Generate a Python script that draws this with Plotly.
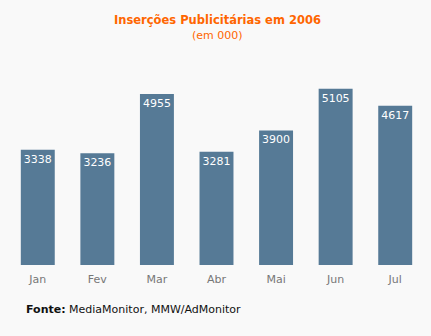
import plotly.graph_objects as go

months = ["Jan", "Fev", "Mar", "Abr", "Mai", "Jun", "Jul"]
values = [3338, 3236, 4955, 3281, 3900, 5105, 4617]

W, H = 431, 336
plot_left, plot_right = 8, 425
plot_top, plot_bot = 65, 265
ymax = 5797


def px(x):
    return (x - plot_left) / (plot_right - plot_left)


def py(y):
    return (plot_bot - y) / (plot_bot - plot_top)


fig = go.Figure(go.Bar(
    x=months, y=values,
    marker=dict(color="#567a96", line=dict(width=0)),
    text=[str(v) for v in values],
    textposition="inside", insidetextanchor="end",
    textfont=dict(family="DejaVu Sans", size=11, color="white"),
    textangle=0,
))

fig.update_layout(
    width=W, height=H,
    margin=dict(l=plot_left, r=W - plot_right, t=plot_top, b=H - plot_bot, pad=0),
    paper_bgcolor="#f9f9f9", plot_bgcolor="#f9f9f9",
    bargap=0.43,
    showlegend=False,
    xaxis=dict(showgrid=False, zeroline=False, showline=False, ticks="",
               tickfont=dict(family="DejaVu Sans", size=11, color="#777777"),
               ticklabelstandoff=6),
    yaxis=dict(range=[0, ymax], visible=False, showgrid=False, zeroline=False),
    annotations=[
        dict(text="<b>Inserções Publicitárias em 2006</b>", x=px(217), y=py(20),
             xref="paper", yref="paper", yanchor="middle", showarrow=False,
             font=dict(family="DejaVu Sans", size=11.5, color="#ff6600")),
        dict(text="(em 000)", x=px(217), y=py(35),
             xref="paper", yref="paper", yanchor="middle", showarrow=False,
             font=dict(family="DejaVu Sans", size=11, color="#ff6600")),
        dict(text="<b>Fonte:</b> MediaMonitor, MMW/AdMonitor", x=px(24), y=py(309),
             xref="paper", yref="paper", xanchor="left", yanchor="middle", showarrow=False,
             font=dict(family="DejaVu Sans", size=11, color="#111111")),
    ],
)

fig.write_html("out.html")
